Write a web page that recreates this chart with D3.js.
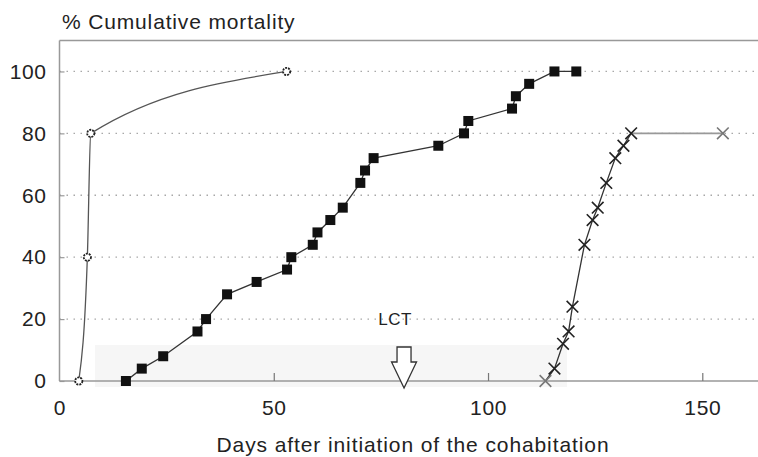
<!DOCTYPE html>
<html>
<head>
<meta charset="utf-8">
<script src="https://cdn.jsdelivr.net/npm/d3@7"></script>
<style>
  html, body { margin: 0; padding: 0; background: #fff; }
  svg { display: block; }
  text { font-family: "Liberation Sans", Arial, Helvetica, sans-serif; fill: #222; }
</style>
</head>
<body>
<svg id="chart" width="758" height="457"></svg>
<script>
// ---- Data ----
const xTicks = [0, 50, 100, 150];
const yTicks = [0, 20, 40, 60, 80, 100];

// Series A (open gear-like circles)
const seriesADays = [4.5, 6.5, 7.3, 53];
const seriesAMort = [0, 40, 80, 100];

// Series B (filled squares)
const seriesBDays = [15.5, 19.2, 24.2, 32.2, 34.2, 39.1, 46, 53.1, 54.1, 59.1, 60.2, 63.2, 66.1, 70.2, 71.3, 73.3, 88.4, 94.4, 95.4, 105.6, 106.5, 109.6, 115.5, 120.6];
const seriesBMort = [0, 4, 8, 16, 20, 28, 32, 36, 40, 44, 48, 52, 56, 64, 68, 72, 76, 80, 84, 88, 92, 96, 100, 100];

// Series C (crosses)
const seriesCDays = [113.4, 115.5, 117.5, 118.8, 119.7, 122.5, 124.4, 125.6, 127.6, 129.7, 131.6, 133.4, 154.8];
const seriesCMort = [0, 4, 12, 16, 24, 44, 52, 56, 64, 72, 76, 80, 80];

// LCT annotation
const lctLabel = "LCT";
const lctDay = 80.4;

const yTitle = "% Cumulative mortality";
const xTitle = "Days after initiation of the cohabitation";

(function () {
// ---- Layout ----
const svg = d3.select("#chart");
const pL = 59.5, pR = 758, pT = 40.5, pB = 381;

const x = d3.scaleLinear().domain([0, 163]).range([pL, pR]);
const y = d3.scaleLinear().domain([0, 110]).range([pB, pT]);

const zip = (xs, ys) => xs.map((d, i) => ({ x: d, y: ys[i] }));
const A = zip(seriesADays, seriesAMort);
const B = zip(seriesBDays, seriesBMort);
const C = zip(seriesCDays, seriesCMort);

// faint scanned shading near baseline
svg.append("rect")
  .attr("x", 95).attr("y", 345).attr("width", 472).attr("height", 42)
  .attr("fill", "#f6f6f6");

// Gridlines (dotted)
svg.append("g").selectAll("line")
  .data(yTicks.filter(d => d > 0))
  .join("line")
  .attr("x1", pL).attr("x2", pR)
  .attr("y1", d => y(d)).attr("y2", d => y(d))
  .attr("stroke", "#a8a8a8")
  .attr("stroke-width", 1.3)
  .attr("stroke-dasharray", "1.5,5.5");

// Frame: top line
svg.append("line")
  .attr("x1", pL).attr("x2", pR).attr("y1", pT).attr("y2", pT)
  .attr("stroke", "#999").attr("stroke-width", 1.5);

// Y axis
const yAxis = svg.append("g")
  .attr("transform", `translate(${pL},0)`)
  .call(d3.axisLeft(y).tickValues(yTicks).tickSize(-5).tickPadding(13).tickFormat(d3.format("d")));
yAxis.select(".domain").attr("stroke", "#999").attr("stroke-width", 1.5)
  .attr("d", `M0,${pT}V${pB}`);
yAxis.selectAll(".tick line").attr("stroke", "#999").attr("stroke-width", 1.2);
yAxis.selectAll(".tick text")
  .style("font-size", "21px").style("letter-spacing", "0.6px")
  .attr("fill", "#222");

// X axis
const xAxis = svg.append("g")
  .attr("transform", `translate(0,${pB})`)
  .call(d3.axisBottom(x).tickValues(xTicks).tickSize(-8).tickPadding(19).tickFormat(d3.format("d")));
xAxis.select(".domain").attr("stroke", "#999").attr("stroke-width", 1.5)
  .attr("d", `M${pL},0H${pR}`);
xAxis.selectAll(".tick line").attr("stroke", "#777").attr("stroke-width", 1.2)
  .attr("display", d => d === 0 ? "none" : null);
xAxis.selectAll(".tick text")
  .style("font-size", "21px").style("letter-spacing", "0.6px")
  .attr("fill", "#222");

// Titles
svg.append("text")
  .attr("x", 62).attr("y", 29)
  .style("font-size", "21px").style("letter-spacing", "0.85px")
  .text(yTitle);
svg.append("text")
  .attr("x", 413).attr("y", 452)
  .attr("text-anchor", "middle")
  .style("font-size", "21px").style("letter-spacing", "0.9px")
  .text(xTitle);

// LCT label and arrow
svg.append("text")
  .attr("x", x(lctDay) - 9).attr("y", y(20) + 6)
  .attr("text-anchor", "middle")
  .style("font-size", "17px").style("letter-spacing", "0.5px")
  .text(lctLabel);
const ax = x(lctDay);
const arrowPath = d3.path();
arrowPath.moveTo(ax - 7, 347);
arrowPath.lineTo(ax + 7, 347);
arrowPath.lineTo(ax + 7, 362);
arrowPath.lineTo(ax + 12.5, 362);
arrowPath.lineTo(ax, 388);
arrowPath.lineTo(ax - 12.5, 362);
arrowPath.lineTo(ax - 7, 362);
arrowPath.closePath();
svg.append("path").attr("d", arrowPath.toString())
  .attr("fill", "#fff").attr("stroke", "#333").attr("stroke-width", 1.3)
  .attr("stroke-linejoin", "miter");

// Lines
const lineStraight = d3.line().x(d => x(d.x)).y(d => y(d.y));
const lineCurve = d3.line().x(d => x(d.x)).y(d => y(d.y)).curve(d3.curveMonotoneX);

svg.append("path").datum(A).attr("d", lineCurve)
  .attr("fill", "none").attr("stroke", "#555").attr("stroke-width", 1.3);
svg.append("path").datum(B).attr("d", lineStraight)
  .attr("fill", "none").attr("stroke", "#333").attr("stroke-width", 1.3);
svg.append("path").datum(C.slice(0, C.length - 1)).attr("d", lineStraight)
  .attr("fill", "none").attr("stroke", "#333").attr("stroke-width", 1.3);
svg.append("path").datum(C.slice(C.length - 2)).attr("d", lineStraight)
  .attr("fill", "none").attr("stroke", "#999").attr("stroke-width", 1.8);

// Markers: series A (gear-like circles)
svg.append("g").selectAll("circle").data(A).join("circle")
  .attr("cx", d => x(d.x)).attr("cy", d => y(d.y)).attr("r", 3.6)
  .attr("fill", "#fff").attr("stroke", "#222").attr("stroke-width", 1.8)
  .attr("stroke-dasharray", "2,1");

// Markers: series B (filled squares)
svg.append("g").selectAll("rect").data(B).join("rect")
  .attr("x", d => x(d.x) - 5).attr("y", d => y(d.y) - 5)
  .attr("width", 10).attr("height", 10)
  .attr("fill", "#111");

// Markers: series C (crosses)
const crossSym = d3.symbol().type(d3.symbolX).size(90);
svg.append("g").selectAll("path").data(C).join("path")
  .attr("transform", d => `translate(${x(d.x)},${y(d.y)})`)
  .attr("d", crossSym)
  .attr("fill", "none")
  .attr("stroke", (d, i) => (i === 0 || i === C.length - 1) ? "#777" : "#222")
  .attr("stroke-width", 1.6);
})();
</script>
</body>
</html>
